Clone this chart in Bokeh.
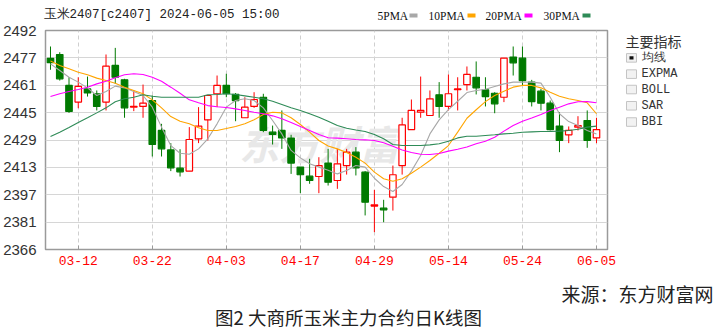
from bokeh.plotting import figure
from bokeh.models import Range1d, FixedTicker, Label, ColumnDataSource
from bokeh.layouts import column, row
from bokeh.core.properties import value
from bokeh.embed import file_html
from bokeh.resources import INLINE

# ---------------- data ----------------
dates = ["03-07", "03-08", "03-11", "03-12", "03-13", "03-14", "03-15", "03-18", "03-19", "03-20",
         "03-21", "03-22", "03-25", "03-26", "03-27", "03-28", "03-29", "04-01", "04-02", "04-03",
         "04-08", "04-09", "04-10", "04-11", "04-12", "04-15", "04-16", "04-17", "04-18", "04-19",
         "04-22", "04-23", "04-24", "04-25", "04-26", "04-29", "04-30", "05-06", "05-07", "05-08",
         "05-09", "05-10", "05-13", "05-14", "05-15", "05-16", "05-17", "05-20", "05-21", "05-22",
         "05-23", "05-24", "05-27", "05-28", "05-29", "05-30", "05-31", "06-03", "06-04", "06-05"]

opens = [2476.0, 2478.2, 2460.4, 2450.8, 2458.4, 2455.6, 2450.8, 2471.9, 2463.6, 2447.9,
         2448.3, 2451.7, 2434.5, 2423.3, 2412.8, 2411.1, 2429.7, 2440.6, 2455.6, 2460.4,
         2455.2, 2441.8, 2448.3, 2453.6, 2433.5, 2434.5, 2430.1, 2413.4, 2408.2, 2408.0,
         2415.7, 2405.7, 2414.3, 2422.0, 2410.5, 2391.0, 2389.8, 2396.1, 2414.3, 2435.0,
         2445.0, 2443.1, 2455.0, 2448.3, 2457.9, 2460.9, 2465.1, 2457.9, 2455.9, 2453.6,
         2476.7, 2476.1, 2462.3, 2457.1, 2450.2, 2437.0, 2432.0, 2436.4, 2440.2, 2430.2]
highs = [2482.8, 2479.5, 2465.1, 2465.1, 2465.5, 2457.5, 2478.2, 2482.0, 2464.2, 2457.5,
         2460.9, 2454.6, 2438.3, 2427.2, 2423.7, 2436.4, 2447.9, 2454.6, 2466.1, 2467.1,
         2456.0, 2453.6, 2456.5, 2455.6, 2437.3, 2446.0, 2432.0, 2413.4, 2418.2, 2419.1,
         2423.9, 2423.9, 2423.9, 2424.9, 2411.1, 2400.3, 2394.6, 2414.3, 2441.8, 2452.3,
         2465.5, 2457.5, 2462.3, 2466.7, 2465.1, 2471.3, 2474.2, 2465.1, 2456.5, 2476.1,
         2482.8, 2482.8, 2463.6, 2458.4, 2451.7, 2445.0, 2436.8, 2442.7, 2446.0, 2441.8]
lows = [2469.4, 2463.2, 2444.6, 2447.3, 2454.0, 2446.0, 2446.0, 2461.3, 2441.8, 2445.6,
        2441.8, 2419.5, 2419.5, 2411.1, 2408.0, 2411.1, 2427.2, 2428.7, 2447.9, 2453.6,
        2439.8, 2441.8, 2447.5, 2433.5, 2426.4, 2423.9, 2409.5, 2398.4, 2403.8, 2398.4,
        2402.8, 2400.9, 2409.1, 2408.6, 2385.6, 2376.0, 2381.7, 2388.4, 2409.1, 2435.0,
        2441.8, 2443.1, 2441.8, 2446.0, 2446.0, 2457.5, 2455.2, 2448.3, 2444.4, 2450.8,
        2466.1, 2460.4, 2448.3, 2446.0, 2434.5, 2422.0, 2427.2, 2434.5, 2424.5, 2427.2]
closes = [2473.5, 2464.2, 2445.4, 2459.8, 2456.1, 2448.3, 2471.5, 2465.1, 2447.5, 2448.4,
          2450.2, 2426.4, 2423.9, 2413.0, 2410.7, 2429.3, 2437.0, 2454.6, 2460.4, 2455.6,
          2451.7, 2447.9, 2452.3, 2434.5, 2432.2, 2430.2, 2415.7, 2409.0, 2405.7, 2414.3,
          2404.7, 2415.3, 2422.0, 2413.0, 2393.2, 2391.7, 2388.8, 2409.0, 2437.7, 2446.0,
          2446.0, 2452.7, 2448.3, 2455.6, 2458.4, 2466.7, 2459.0, 2454.0, 2449.8, 2476.1,
          2473.4, 2463.2, 2451.1, 2450.2, 2435.0, 2428.7, 2434.5, 2437.3, 2428.7, 2435.0]

ma5 = [2472.8, 2469.0, 2465.1, 2462.3, 2459.0, 2454.6, 2456.9, 2460.0, 2459.0, 2456.9,
       2454.6, 2447.9, 2436.4, 2425.8, 2421.4, 2420.8, 2423.9, 2429.7, 2438.3, 2447.9,
       2451.7, 2452.7, 2451.7, 2447.5, 2440.2, 2432.5, 2423.0, 2418.7, 2415.3, 2413.4,
       2411.6, 2409.5, 2411.4, 2414.3, 2413.4, 2407.0, 2402.2, 2399.4, 2403.4, 2411.1,
       2420.1, 2432.5, 2440.6, 2446.5, 2451.3, 2456.3, 2457.5, 2458.2, 2459.8, 2461.3,
       2462.3, 2462.3, 2462.3, 2461.7, 2453.6, 2444.1, 2439.6, 2437.3, 2434.5, 2432.5]
ma10 = [2474.4, 2471.9, 2470.0, 2468.0, 2466.5, 2464.6, 2463.2, 2461.7, 2459.4, 2457.5,
        2455.6, 2452.1, 2447.5, 2442.5, 2439.8, 2438.3, 2436.0, 2434.5, 2434.5, 2435.6,
        2436.8, 2438.3, 2440.6, 2443.7, 2445.0, 2444.6, 2441.8, 2437.9, 2433.5, 2428.7,
        2425.6, 2423.9, 2421.8, 2419.1, 2415.7, 2410.5, 2406.7, 2405.3, 2406.7, 2409.9,
        2413.4, 2417.2, 2421.4, 2425.8, 2433.5, 2441.5, 2446.4, 2451.1, 2454.6, 2457.1,
        2459.4, 2460.4, 2460.4, 2459.0, 2456.5, 2454.2, 2452.7, 2451.7, 2450.4, 2444.1]
ma20 = [2454.0, 2455.6, 2456.9, 2458.1, 2459.4, 2461.3, 2462.8, 2464.8, 2466.5, 2467.1,
        2466.7, 2465.1, 2462.8, 2459.4, 2455.9, 2452.1, 2450.4, 2448.8, 2448.1, 2447.7,
        2446.9, 2446.0, 2445.0, 2444.1, 2442.9, 2441.2, 2439.1, 2436.8, 2434.5, 2432.2,
        2430.3, 2430.1, 2429.7, 2429.3, 2429.1, 2428.7, 2427.4, 2425.4, 2423.3, 2421.8,
        2420.8, 2420.7, 2421.2, 2422.6, 2423.7, 2425.0, 2426.8, 2428.3, 2430.6, 2434.1,
        2437.3, 2439.8, 2441.6, 2443.7, 2446.0, 2447.9, 2449.8, 2451.0, 2451.1, 2450.4]
ma30 = [2431.0, 2433.5, 2436.2, 2439.1, 2441.8, 2444.6, 2447.5, 2451.0, 2452.7, 2453.6,
        2455.0, 2454.2, 2453.6, 2453.6, 2453.6, 2453.6, 2453.6, 2455.0, 2455.2, 2455.6,
        2455.2, 2454.4, 2453.6, 2452.7, 2451.3, 2449.4, 2447.5, 2446.0, 2444.1, 2442.1,
        2439.8, 2437.3, 2435.8, 2434.8, 2433.9, 2432.2, 2429.7, 2426.4, 2425.8, 2425.8,
        2425.8, 2426.2, 2426.8, 2428.3, 2430.2, 2431.2, 2431.2, 2431.6, 2432.0, 2432.5,
        2432.9, 2433.5, 2433.7, 2433.9, 2433.9, 2434.1, 2434.5, 2435.2, 2436.4, 2437.0]

x_tick_labels = ["03-12", "03-22", "04-03", "04-17", "04-29", "05-14", "05-24", "06-05"]
y_tick_labels = ["2492", "2477", "2461", "2445", "2429", "2413", "2397", "2381", "2366"]
y_max, y_min = 2492, 2366

ma_names = ["5PMA", "10PMA", "20PMA", "30PMA"]
ma_colors = ["#a8a8a8", "#ffa500", "#ff00ff", "#2e8b57"]
indicator_names = ["均线", "EXPMA", "BOLL", "SAR", "BBI"]

title_text = "玉米2407[c2407] 2024-06-05 15:00"
panel_title = "主要指标"
source_text = "来源：东方财富网"
caption_text = "图2 大商所玉米主力合约日K线图"
watermark_text = "东方财富"

# ---------------- layout geometry (page pixels) ----------------
W, H = 716, 331
HEAD_H = 22          # header strip
MAIN_W = 620         # width of the chart figure
MAIN_BOTTOM = 278    # page y where footer starts
FL, FR, FT, FB = 44, 607, 30, 249   # chart frame edges
X0, X1 = -0.54, 60.19


def canvas(w, h, x0, y0):
    """A figure whose frame fills it, with ranges in page pixels (y downward)."""
    f = figure(width=w, height=h, output_backend="svg", toolbar_location=None,
               x_range=Range1d(x0, x0 + w), y_range=Range1d(y0 + h, y0),
               x_axis_location=None, y_axis_location=None,
               min_border_left=0, min_border_right=0, min_border_top=0, min_border_bottom=0)
    f.title.visible = False
    f.outline_line_color = None
    f.grid.visible = False
    f.background_fill_color = "white"
    f.border_fill_color = "white"
    return f


# ---------------- header ----------------
head = canvas(W, HEAD_H, 0, 0)
head.text(x=[43], y=[14], text=[title_text], text_font=value("Liberation Mono"),
          text_font_size="12.5px", text_color="#222222", text_baseline="middle")
leg_x = [377, 428, 485, 543]
leg_w = [32 if len(nm) == 4 else 39 for nm in ma_names]
head.text(x=leg_x, y=[15] * 4, text=ma_names, text_font=value("Liberation Serif"),
          text_font_size="11.5px", text_color="#111111", text_baseline="middle")
head.quad(left=[lx + w for lx, w in zip(leg_x, leg_w)],
          right=[lx + w + 8 for lx, w in zip(leg_x, leg_w)],
          top=[13] * 4, bottom=[17] * 4, fill_color=ma_colors, line_color=None)

# ---------------- main chart ----------------
p = figure(width=MAIN_W, height=MAIN_BOTTOM - HEAD_H, output_backend="svg", toolbar_location=None,
           x_range=Range1d(X0, X1), y_range=Range1d(y_min, y_max),
           min_border_left=FL, min_border_right=MAIN_W - FR,
           min_border_top=FT - HEAD_H, min_border_bottom=MAIN_BOTTOM - FB)
p.title.visible = False
p.background_fill_color = "white"
p.border_fill_color = "white"
p.outline_line_color = "#9a9a9a"
p.outline_line_width = 1.5

n = len(dates)
xs = list(range(n))
x_ticks = [dates.index(d) for d in x_tick_labels]
y_ticks = [y_max - i * (y_max - y_min) / (len(y_tick_labels) - 1) for i in range(len(y_tick_labels))]

p.xaxis.ticker = FixedTicker(ticks=x_ticks)
p.xaxis.major_label_overrides = {t: l for t, l in zip(x_ticks, x_tick_labels)}
p.xaxis.major_label_text_color = "#ff0000"
p.xaxis.major_label_text_font = "Liberation Mono"
p.xaxis.major_label_text_font_size = "13px"
p.xaxis.major_label_standoff = 6
p.xaxis.axis_line_color = "#9a9a9a"
p.xaxis.major_tick_line_color = "#9a9a9a"
p.xaxis.major_tick_in = 4
p.xaxis.major_tick_out = 0
p.xaxis.minor_tick_line_color = None

p.yaxis.ticker = FixedTicker(ticks=y_ticks)
p.yaxis.major_label_overrides = {t: l for t, l in zip(y_ticks, y_tick_labels)}
p.yaxis.major_label_text_color = "#333333"
p.yaxis.major_label_text_font = "Liberation Sans"
p.yaxis.major_label_text_font_size = "15px"
p.yaxis.major_label_standoff = 3
p.yaxis.axis_line_color = None
p.yaxis.major_tick_line_color = None
p.yaxis.minor_tick_line_color = None

p.xgrid.ticker = FixedTicker(ticks=x_ticks)
p.xgrid.grid_line_color = "#cfcfcf"
p.xgrid.grid_line_dash = "4 3"
p.ygrid.ticker = FixedTicker(ticks=y_ticks)
p.ygrid.grid_line_color = "#d6d6d6"
p.ygrid.grid_line_width = 1.2


def sx(px):
    return X0 + (px - FL) / (FR - FL) * (X1 - X0)


def sy(py):
    return y_max - (py - FT) / (FB - FT) * (y_max - y_min)


# watermark
p.add_layout(Label(x=sx(238), y=sy(142), text=watermark_text, text_font="Noto Sans CJK SC",
                   text_font_size="40px", text_font_style="bold italic", text_color="#e8e8e8",
                   text_baseline="middle", text_align="left", level="underlay"))

# candles
up = [c >= o for o, c in zip(opens, closes)]
src = ColumnDataSource(dict(
    x=xs, h=highs, l=lows,
    top=[max(o, c) for o, c in zip(opens, closes)],
    bot=[min(o, c) if abs(c - o) > 0.4 else min(o, c) - 0.4 for o, c in zip(opens, closes)],
    col=["#ff0000" if u else "#007a00" for u in up],
    fill=["white" if u else "#007a00" for u in up],
))
p.segment(x0="x", y0="h", x1="x", y1="l", color="col", line_width=1, source=src)
p.vbar(x="x", top="top", bottom="bot", width=0.7, fill_color="fill", line_color="col",
       line_width=1.2, source=src)

# moving averages
for ma, col in zip([ma5, ma10, ma20, ma30], ma_colors):
    p.line(xs, ma, line_color=col, line_width=1.1)

# ---------------- right panel ----------------
side = canvas(W - MAIN_W, MAIN_BOTTOM - HEAD_H, MAIN_W, HEAD_H)
side.text(x=[625], y=[34], text=[panel_title], text_font=value("Noto Sans CJK SC"),
          text_font_size="14px", text_color="#333333", text_baseline="middle")
row_y = [54, 73, 91, 110, 129]
side.quad(left=[626] * 5, right=[636] * 5, top=[ry - 5 for ry in row_y],
          bottom=[ry + 5 for ry in row_y], fill_color="#f2f2f2", line_color="#c4c4c4", line_width=1)
side.quad(left=[629], right=[633], top=[row_y[0] - 2], bottom=[row_y[0] + 2],
          fill_color="#111111", line_color=None)
side.text(x=[641] * 5, y=row_y, text=indicator_names, text_font=value("Liberation Mono"),
          text_font_size="12px", text_color="#333333", text_baseline="middle")

# ---------------- footer ----------------
foot = canvas(W, H - MAIN_BOTTOM, 0, MAIN_BOTTOM)
foot.text(x=[713], y=[293], text=[source_text], text_font=value("Noto Sans CJK SC"),
          text_font_size="19px", text_color="#222222", text_baseline="middle", text_align="right")
foot.text(x=[348], y=[316], text=[caption_text], text_font=value("Noto Sans CJK SC"),
          text_font_size="18.5px", text_color="#222222", text_baseline="middle", text_align="center")

layout = column(head, row(p, side), foot)
open("out.html", "w").write(file_html(layout, INLINE))
